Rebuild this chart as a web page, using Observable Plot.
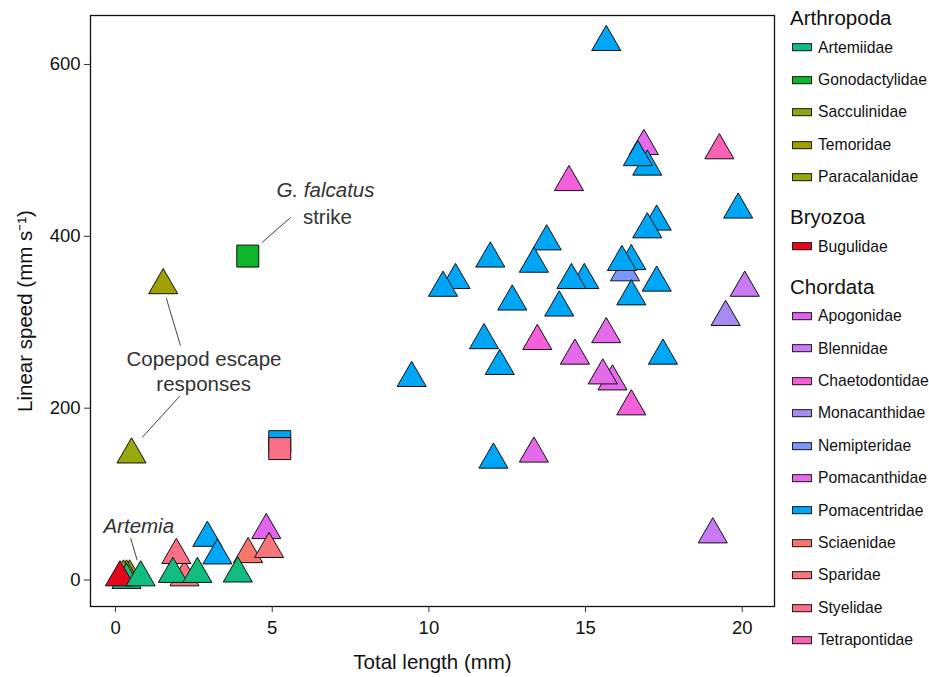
<!DOCTYPE html>
<html><head><meta charset="utf-8">
<script src="https://cdn.jsdelivr.net/npm/d3@7"></script>
<script src="https://cdn.jsdelivr.net/npm/@observablehq/plot@0.6"></script>
<style>
body{margin:0;background:#fff;font-family:Arial,"Liberation Sans",sans-serif;}
#wrap{position:relative;width:929px;height:677px;overflow:hidden;background:#fff}
#wrap svg{position:absolute;left:0;top:0}
.lt{position:absolute;left:790px;font-size:20.5px;color:#111;transform:translateY(-50%);white-space:nowrap;line-height:1}
.li{position:absolute;left:792px;display:flex;align-items:center;transform:translateY(-50%);white-space:nowrap;font-size:15.7px;color:#111;line-height:1}
.sw{width:18px;height:6px;border:1px solid #222;margin-right:6px;flex:none}
</style></head><body><div id="wrap"></div>
<script>
// ---- data ----
const phyla = ["Arthropoda", "Bryozoa", "Chordata"];
const families = ["Artemiidae","Gonodactylidae","Sacculinidae","Temoridae","Paracalanidae",
  "Bugulidae",
  "Apogonidae","Blennidae","Chaetodontidae","Monacanthidae","Nemipteridae","Pomacanthidae",
  "Pomacentridae","Sciaenidae","Sparidae","Styelidae","Tetrapontidae"];
const familyPhylum = ["Arthropoda","Arthropoda","Arthropoda","Arthropoda","Arthropoda",
  "Bryozoa",
  "Chordata","Chordata","Chordata","Chordata","Chordata","Chordata",
  "Chordata","Chordata","Chordata","Chordata","Chordata"];
const palette = ["#10bd7e","#0cb52a","#8aa612","#a0a000","#98a80c",
  "#e5081c",
  "#e164ee","#c97af5","#f65fdc","#a78af3","#7b97fa","#e56ae9",
  "#00a6f6","#f7766b","#f6767b","#f86f86","#f862b4"];

// points (drawn in this order)
const pointFamily = [
  "Apogonidae",
  "Blennidae","Blennidae",
  "Chaetodontidae","Chaetodontidae","Chaetodontidae",
  "Monacanthidae",
  "Nemipteridae",
  "Pomacanthidae","Pomacanthidae","Pomacanthidae","Pomacanthidae","Pomacanthidae","Pomacanthidae",
  "Tetrapontidae",
  "Pomacentridae","Pomacentridae","Pomacentridae","Pomacentridae","Pomacentridae","Pomacentridae",
  "Pomacentridae","Pomacentridae","Pomacentridae","Pomacentridae","Pomacentridae","Pomacentridae",
  "Pomacentridae","Pomacentridae","Pomacentridae","Pomacentridae","Pomacentridae","Pomacentridae",
  "Pomacentridae","Pomacentridae","Pomacentridae","Pomacentridae","Pomacentridae","Pomacentridae",
  "Pomacentridae","Pomacentridae",
  "Sciaenidae",
  "Sparidae","Sparidae",
  "Styelidae",
  "Sacculinidae","Sacculinidae","Sacculinidae",
  "Temoridae","Paracalanidae",
  "Artemiidae",
  "Bugulidae",
  "Artemiidae","Artemiidae","Artemiidae","Artemiidae",
  "Gonodactylidae","Pomacentridae","Styelidae"];
const pointLength = [
  4.81,
  20.08, 19.06,
  13.46, 16.46, 14.47,
  19.47,
  16.26,
  15.66, 14.66, 15.86, 15.55, 13.35, 16.86,
  19.27,
  15.66, 19.87, 17.27, 16.97, 13.76, 13.35,
  11.96, 16.46, 16.16, 10.85, 10.45, 14.96,
  14.55, 17.27, 16.46, 12.66, 14.16, 11.76,
  17.47, 12.26, 9.45, 12.06, 16.97, 16.67,
  2.93, 3.25,
  4.23,
  2.2, 4.9,
  1.94,
  0.45, 0.35, 0.25,
  1.52, 0.51,
  0.35,
  0.14,
  0.8, 1.83, 2.61, 3.9,
  4.22, 5.24, 5.24];
const pointSpeed = [
  58,
  340, 53,
  278, 202, 463,
  306,
  358,
  286, 261, 231, 238, 147, 505,
  500,
  626, 431, 417, 408, 394, 368,
  374, 371, 370, 349, 340, 349,
  349, 346, 330, 324, 317, 279,
  261, 249, 235, 140, 481, 492,
  49, 28.5,
  30,
  3, 36,
  29,
  4, 4, 4,
  343, 146,
  0,
  3,
  3, 7, 7, 7.5,
  377, 161, 153];
const pointShape = pointFamily.map((f, i) => i >= pointFamily.length - 3 ? "square" : "triangle");

const xTicks = [0, 5, 10, 15, 20];
const yTicks = [0, 200, 400, 600];
const xLabel = "Total length (mm)";
const yLabel = "Linear speed (mm s\u207B\u00B9)";

// annotations (data coordinates)
const annoText = ["G. falcatus", "strike", "Copepod escape", "responses", "Artemia"];
const annoX = [6.70, 6.76, 2.82, 2.81, 0.74];
const annoY = [453, 422, 257, 228, 62];
const annoItalic = [true, false, false, false, true];
const leadX1 = [5.59, 1.62, 2.05, 0.48];
const leadY1 = [422, 328, 214, 49];
const leadX2 = [4.68, 2.07, 0.85, 0.69];
const leadY2 = [393, 273, 166, 23];

// ---- build ----
const pts = pointFamily.map((f, i) => ({family: f, length: pointLength[i], speed: pointSpeed[i], shape: pointShape[i]}));
const annos = annoText.map((t, i) => ({t, x: annoX[i], y: annoY[i], it: annoItalic[i]}));
const leads = leadX1.map((v, i) => ({x1: v, y1: leadY1[i], x2: leadX2[i], y2: leadY2[i]}));

const chart = Plot.plot({
  width: 780, height: 677,
  marginLeft: 90, marginRight: 6, marginTop: 15, marginBottom: 71,
  style: {fontFamily: "Arial, 'Liberation Sans', sans-serif", color: "#111", background: "transparent"},
  x: {domain: [-0.8, 21.03]},
  y: {domain: [-30.8, 657]},
  color: {domain: families, range: palette},
  marks: [
    Plot.frame({stroke: "#111", strokeWidth: 1.3}),
    Plot.axisX({ticks: xTicks, tickSize: 6, tickPadding: 8, fontSize: 18.5, label: null, stroke: "#333"}),
    Plot.axisY({ticks: yTicks, tickSize: 6, tickPadding: 4, fontSize: 18.5, label: null, stroke: "#333"}),
    Plot.text([xLabel], {frameAnchor: "bottom", dy: 56, lineAnchor: "middle", textAnchor: "middle", fontSize: 20.5, fill: "#111"}),
    Plot.text([yLabel], {frameAnchor: "left", dx: -65, rotate: -90, textAnchor: "middle", lineAnchor: "middle", fontSize: 20.5, fill: "#111"}),
    Plot.link(leads, {x1: "x1", y1: "y1", x2: "x2", y2: "y2", stroke: "#444", strokeWidth: 1}),
    Plot.text(annos.filter(d => !d.it), {x: "x", y: "y", text: "t", fontSize: 20.5, fill: "#333"}),
    Plot.text(annos.filter(d => d.it), {x: "x", y: "y", text: "t", fontSize: 20.5, fill: "#333", fontStyle: "italic"}),
    Plot.dot(pts.filter(d => d.shape === "triangle"), {x: "length", y: "speed", fill: "family", symbol: "triangle", r: 10.8, stroke: "#111", strokeWidth: 1}),
    Plot.dot(pts.filter(d => d.shape === "square"), {x: "length", y: "speed", fill: "family", symbol: "square", r: 12.4, stroke: "#111", strokeWidth: 1})
  ]
});
const wrap = document.getElementById("wrap");
wrap.appendChild(chart);

// legend
const legend = document.createElement("div");
legend.id = "legend";
let y = 18;
phyla.forEach((p, pi) => {
  if (pi > 0) y += 40;
  const t = document.createElement("div");
  t.className = "lt"; t.textContent = p; t.style.top = y + "px";
  legend.appendChild(t);
  y += 29.5;
  const fams = families.filter((f, i) => familyPhylum[i] === p);
  fams.forEach((f, k) => {
    if (k > 0) y += 32.4;
    const it = document.createElement("div");
    it.className = "li"; it.style.top = y + "px";
    const sw = document.createElement("span");
    sw.className = "sw"; sw.style.background = palette[families.indexOf(f)];
    it.appendChild(sw);
    it.appendChild(document.createTextNode(f));
    legend.appendChild(it);
  });
});
wrap.appendChild(legend);
</script></body></html>
